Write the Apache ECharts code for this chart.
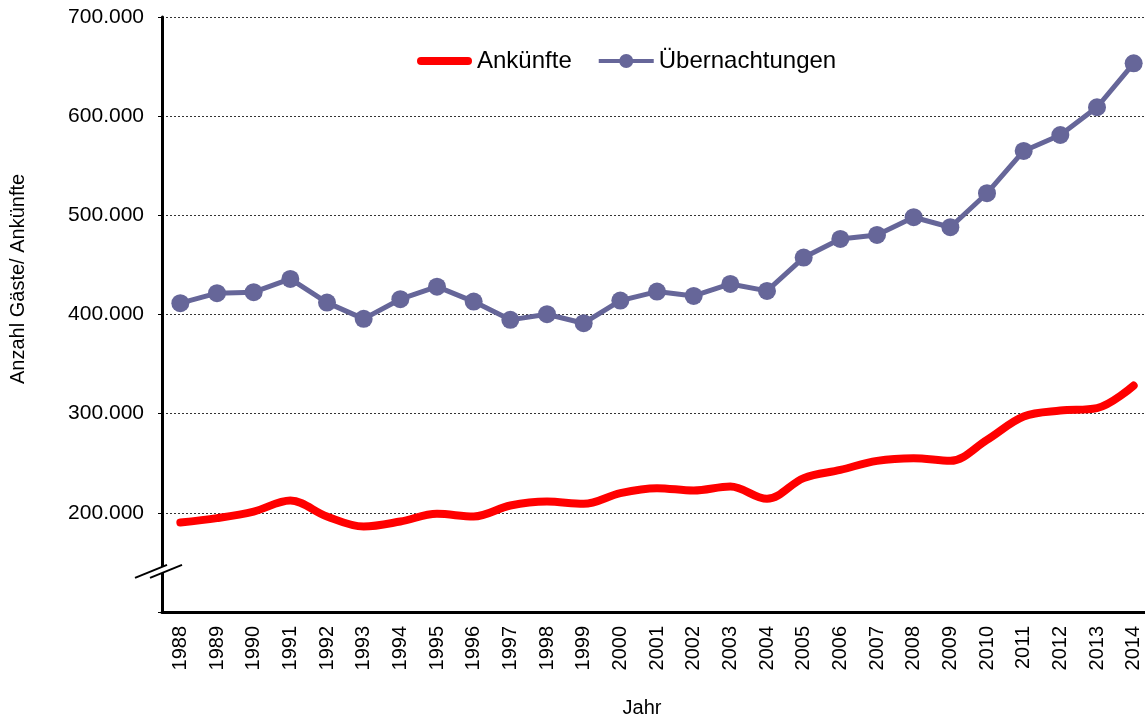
<!DOCTYPE html>
<html>
<head>
<meta charset="utf-8">
<script src="https://cdn.jsdelivr.net/npm/echarts@6/dist/echarts.min.js"></script>
<style>
  html, body { margin: 0; padding: 0; background: #fff; }
  #chart { width: 1145px; height: 722px; }
</style>
</head>
<body>
<div id="chart"></div>
<script>
// Gäste in Jahren 1988–2014
const years = ['1988','1989','1990','1991','1992','1993','1994','1995','1996','1997','1998','1999','2000',
  '2001','2002','2003','2004','2005','2006','2007','2008','2009','2010','2011','2012','2013','2014'];

const ankuenfte = [190200, 194700, 201300, 212400, 196300, 186200, 191200, 199000, 196300, 207400,
  211400, 209100, 219900, 224900, 222500, 226500, 214100, 235000, 243300, 252400, 255100, 252400,
  273600, 297100, 303100, 305600, 328300];

const uebernachtungen = [411400, 421500, 422500, 435900, 412000, 395600, 415400, 428100, 413000, 394600,
  400300, 391200, 414000, 423100, 418700, 430800, 423800, 457400, 476200, 480200, 498100, 488000,
  522300, 564900, 581000, 609000, 653300];

const yTicks = [100000, 200000, 300000, 400000, 500000, 600000, 700000];
const breakValue = 142500; // where the value axis is broken

const FONT = '"Liberation Sans", Arial, sans-serif';

// legend icons: thick rounded bar, and thin line with a dot
const ICON_BAR = 'path://M4,5 H51 A4,4 0 0,1 51,13 H4 A4,4 0 0,1 4,5 Z';
const ICON_DOT = 'path://M0,7 H55 V11 H0 Z M20.5,9 A7,7 0 1,1 34.5,9 A7,7 0 1,1 20.5,9 Z';

function fmtDe(v) {
  return String(v).replace(/\B(?=(\d{3})+(?!\d))/g, '.');
}

const chart = echarts.init(document.getElementById('chart'), null, { renderer: 'canvas' });

chart.setOption({
  animation: false,
  backgroundColor: '#ffffff',
  textStyle: { fontFamily: FONT, color: '#000' },
  grid: { left: 162, top: 17, width: 990, bottom: 110, containLabel: false, outerBoundsMode: 'none' },
  legend: {
    left: 417,
    top: 49,
    padding: 0,
    itemWidth: 55,
    itemHeight: 18,
    itemGap: 27,
    symbolKeepAspect: true,
    textStyle: { fontSize: 24, fontFamily: FONT, color: '#000' },
    data: [
      { name: 'Ankünfte', icon: ICON_BAR },
      { name: 'Übernachtungen', icon: ICON_DOT }
    ]
  },
  xAxis: {
    type: 'category',
    data: years,
    boundaryGap: true,
    axisLine: { show: true, lineStyle: { color: '#000', width: 3 } },
    axisTick: { show: false },
    axisLabel: { rotate: 90, fontSize: 20, margin: 14, color: '#000', fontFamily: FONT, interval: 0 },
    splitLine: { show: false }
  },
  yAxis: {
    type: 'value',
    min: yTicks[0],
    max: yTicks[yTicks.length - 1],
    interval: 100000,
    axisLine: { show: true, lineStyle: { color: '#000', width: 3 } },
    axisTick: { show: true, length: 4, lineStyle: { color: '#000', width: 1 } },
    axisLabel: {
      fontSize: 21, margin: 18, color: '#000', fontFamily: FONT,
      formatter: v => (v === yTicks[0] ? '' : fmtDe(v))
    },
    splitLine: { show: true, lineStyle: { color: '#333', width: 1, type: [2, 2] } }
  },
  series: [
    {
      name: 'Ankünfte',
      type: 'line',
      data: ankuenfte,
      smooth: 0.35,
      symbol: 'none',
      showSymbol: false,
      lineStyle: { color: '#FF0000', width: 8, cap: 'round', join: 'round' },
      itemStyle: { color: '#FF0000' },
      z: 3
    },
    {
      name: 'Übernachtungen',
      type: 'line',
      data: uebernachtungen,
      smooth: false,
      symbol: 'circle',
      symbolSize: 18,
      lineStyle: { color: '#666699', width: 5 },
      itemStyle: { color: '#666699' },
      z: 4
    }
  ]
});

// Rotated y-axis title, x-axis title and axis-break marks, placed from the axis scale
const step = chart.convertToPixel({ xAxisIndex: 0 }, years[1]) - chart.convertToPixel({ xAxisIndex: 0 }, years[0]);
const axisX = chart.convertToPixel({ xAxisIndex: 0 }, years[0]) - step / 2;
const by = chart.convertToPixel({ yAxisIndex: 0 }, breakValue);
const titleCenter = (chart.convertToPixel({ yAxisIndex: 0 }, 200000) + chart.convertToPixel({ yAxisIndex: 0 }, 700000)) / 2 + 14;

chart.setOption({
  graphic: [
    {
      type: 'text',
      rotation: Math.PI / 2,
      x: 8, y: titleCenter,
      style: { text: 'Anzahl Gäste/ Ankünfte', fontSize: 20, fontFamily: FONT, fill: '#000', textAlign: 'center', textVerticalAlign: 'top' }
    },
    {
      type: 'text',
      style: { text: 'Jahr', fontSize: 20, fontFamily: FONT, fill: '#000', textAlign: 'center', textVerticalAlign: 'middle' },
      x: 642, y: 708
    },
    {
      type: 'polygon',
      shape: { points: [[axisX - 27, by + 8], [axisX + 5, by - 5], [axisX + 20, by - 5], [axisX - 12, by + 8]] },
      style: { fill: '#fff', stroke: null },
      z: 100
    },
    {
      type: 'line',
      shape: { x1: axisX - 27, y1: by + 8, x2: axisX + 5, y2: by - 5 },
      style: { stroke: '#000', lineWidth: 2 },
      z: 101
    },
    {
      type: 'line',
      shape: { x1: axisX - 12, y1: by + 8, x2: axisX + 20, y2: by - 5 },
      style: { stroke: '#000', lineWidth: 2 },
      z: 101
    }
  ]
});
</script>
</body>
</html>
